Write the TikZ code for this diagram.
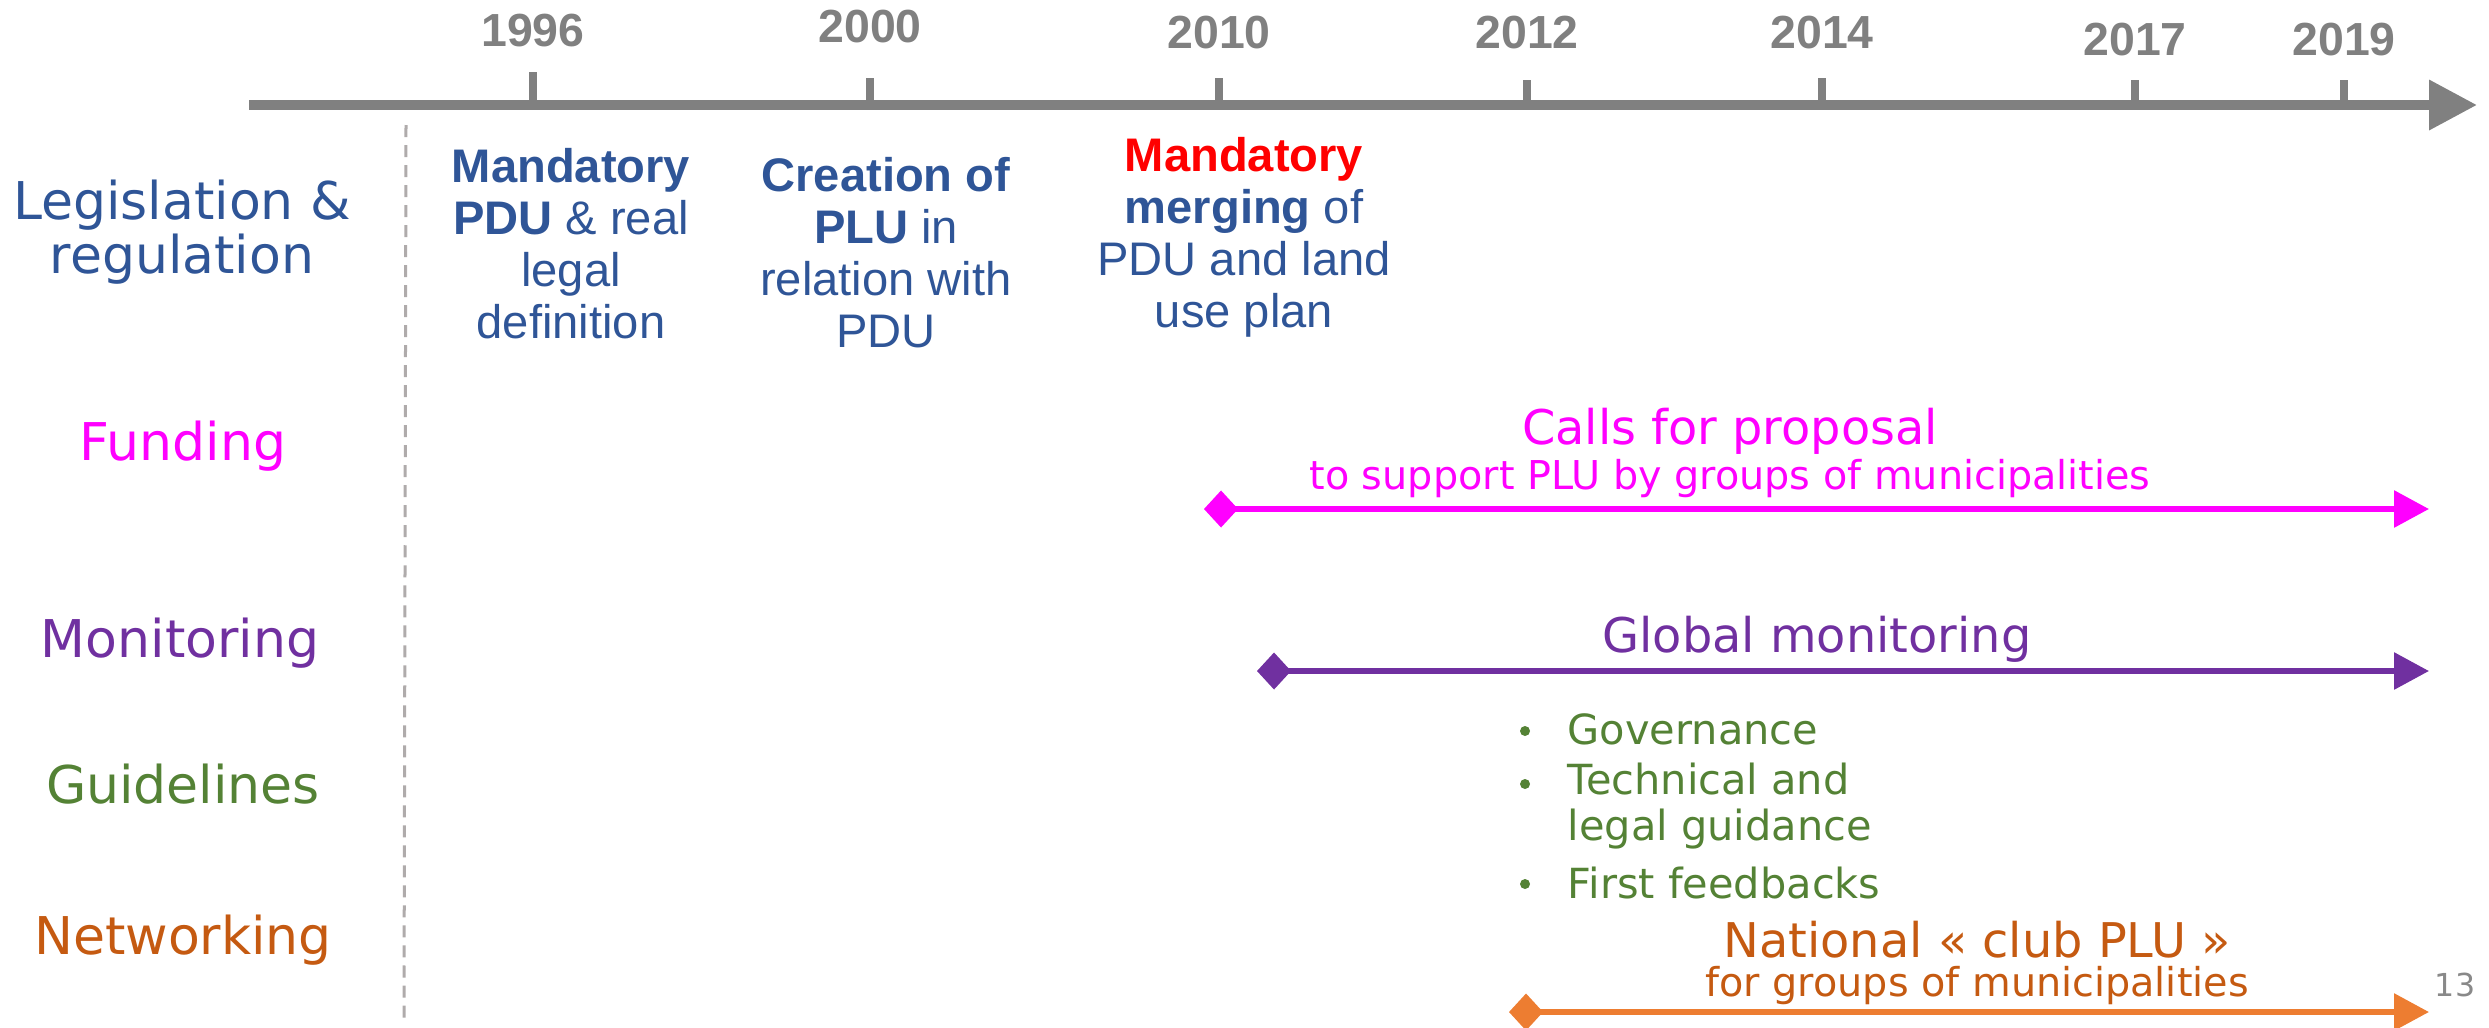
\documentclass[tikz,border=0pt]{standalone}
\usepackage{fontspec}
\setmainfont{Liberation Sans}
\newfontfamily\verd{DejaVu Sans}
\usetikzlibrary{arrows.meta}
\definecolor{axisgray}{HTML}{808080}
\definecolor{dashgray}{HTML}{AFABAB}
\definecolor{legblue}{HTML}{2F5597}
\definecolor{fundpink}{HTML}{FF00FF}
\definecolor{monpurple}{HTML}{7030A0}
\definecolor{guidegreen}{HTML}{548235}
\definecolor{nettext}{HTML}{C55A11}
\definecolor{netarrow}{HTML}{ED7D31}
\definecolor{pagegray}{HTML}{898989}
\begin{document}
\begin{tikzpicture}[x=0.01cm,y=-0.01cm,
    year/.style={font=\fontsize{13.2}{15}\selectfont\bfseries, text=axisgray, inner sep=0},
    tick/.style={draw=axisgray, line width=0.8mm},
    lawtext/.style={font=\fontsize{13.4}{14.8}\selectfont, text=legblue, align=center, inner sep=0},
    rowlabel/.style={font=\verd\fontsize{14.8}{15.4}\selectfont, align=center, inner sep=0},
    bigtext/.style={font=\verd\fontsize{13.6}{15}\selectfont, inner sep=0},
    smalltext/.style={font=\verd\fontsize{11.3}{13}\selectfont, inner sep=0},
    guidetext/.style={font=\verd\fontsize{11.8}{13.1}\selectfont, text=guidegreen, align=left, inner sep=0, anchor=west},
    dot/.style={circle, fill=guidegreen, inner sep=0, minimum size=1mm},
    span/.style={line width=0.6mm, {Turned Square[length=3.4mm,width=3.7mm]}-{Triangle[length=3.5mm,width=3.6mm]}}]
      \useasboundingbox (0,0) rectangle (2489,1027);
      % time axis
      \coordinate (axs) at (249,105);
      \coordinate (axe) at (2477,105);
      \draw[axisgray, line width=1mm, -{Triangle[length=4.8mm,width=4.8mm]}] (axs) -- (axe);
      \foreach \yr/\x/\ly/\tt in {1996/533/31/72, 2000/870/27/78, 2010/1219/33/78, 2012/1527/33/80,
                                  2014/1822/33/78, 2017/2135/40/80, 2019/2344/40/80}{
        \node (y\yr)[year] at (\x,\ly){\yr};
        \coordinate (t\yr) at (\x,\tt);
        \draw[tick] (t\yr) -- (t\yr |- axs);
      }
      % separator
      \coordinate (sept) at (406,125);
      \coordinate (sepb) at (404,1018);
      \draw[dashgray, line width=0.3mm, dash pattern=on 1.2mm off 0.8mm] (sept) -- (sepb);
      % row labels
      \node (leg)[rowlabel, text=legblue] at (182,232){Legislation \&\\regulation};
      \node (fund)[rowlabel, text=fundpink] at (183,446){Funding};
      \node (mon)[rowlabel, text=monpurple] at (180,643){Monitoring};
      \node (guide)[rowlabel, text=guidegreen] at (183,784){Guidelines};
      \node (net)[rowlabel, text=nettext] at (183,940){Networking};
      % legislation
      \node (pdu)[lawtext] at (571,244){\textbf{Mandatory}\\\textbf{PDU} \& real\\legal\\definition};
      \node (plu)[lawtext] at (886,253){\textbf{Creation of}\\\textbf{PLU} in\\relation with\\PDU};
      \node (merge)[lawtext] at (1244,237){\textbf{\textcolor{red}{Mandatory}}\\\textbf{merging} of\\PDU and land\\use plan};
      % funding
      \node (calls)[bigtext, text=fundpink] at (1730,431){Calls for proposal};
      \node (callsub)[smalltext, text=fundpink] at (1730,479){to support PLU by groups of municipalities};
      \coordinate (fs) at (1204,509);
      \coordinate (fe) at (2429,509);
      \draw[span, fundpink] (fs) -- (fe);
      % monitoring
      \node (glob)[bigtext, text=monpurple] at (1817,639){Global monitoring};
      \coordinate (ms) at (1257,671);
      \coordinate (me) at (2429,671);
      \draw[span, monpurple] (ms) -- (me);
      % guidelines
      \node (b1)[dot] at (1525,731){};
      \node (b2)[dot] at (1525,784){};
      \node (b3)[dot] at (1525,884){};
      \node (gov)[guidetext] at (1567,729){Governance};
      \node (tech)[guidetext] at (1567,806){Technical and\\legal guidance};
      \node (feed)[guidetext] at (1567,883){First feedbacks};
      % networking
      \node (club)[bigtext, text=nettext] at (1977,940){National « club PLU »};
      \node (clubsub)[smalltext, text=nettext] at (1977,986){for groups of municipalities};
      \coordinate (ns) at (1509,1012);
      \coordinate (ne) at (2429,1012);
      \draw[span, netarrow] (ns) -- (ne);
      \node (page)[font=\verd\fontsize{9}{10}\selectfont, text=pagegray, inner sep=0] at (2455,985){13};
    \end{tikzpicture}
\end{document}
